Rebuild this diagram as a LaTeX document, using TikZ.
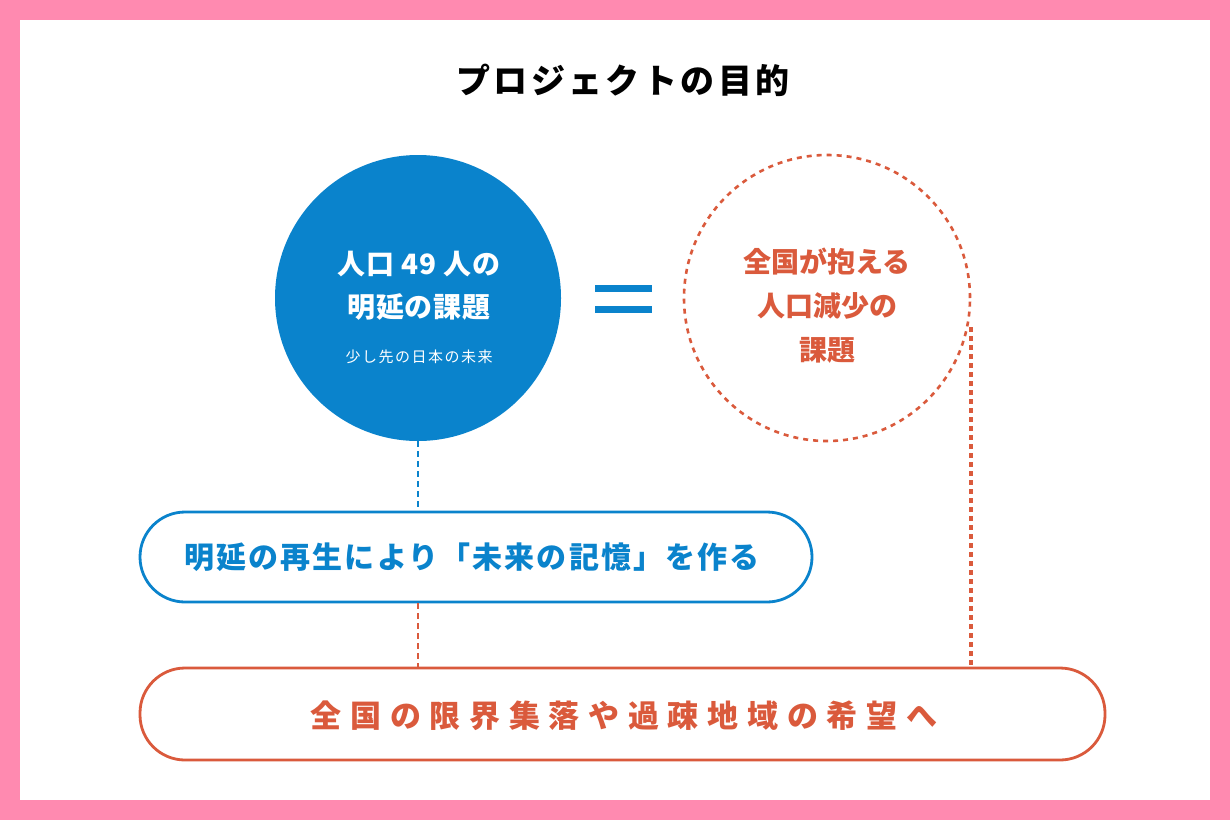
\documentclass[tikz,border=0pt]{standalone}
\usepackage{fontspec}
\setmainfont{Noto Sans CJK JP}
\usetikzlibrary{calc}
\definecolor{pinkb}{HTML}{FF8AB0}
\definecolor{blueM}{HTML}{0A83CC}
\definecolor{orangeM}{HTML}{DA5A3C}
\tikzset{
  solidcirc/.style={circle, fill=blueM, minimum size=286pt, inner sep=0pt, text=white, align=center},
  dashcirc/.style={circle, draw=orangeM, line width=2.6pt, dash pattern=on 5pt off 5pt, minimum size=286pt, inner sep=0pt, text=orangeM, align=center},
  pill/.style={draw, rounded corners=45pt, line width=2.8pt, inner sep=0pt},
  bluedash/.style={draw=blueM, line width=2.6pt, dash pattern=on 6pt off 4pt},
  oradash/.style={draw=orangeM, line width=2.6pt, dash pattern=on 6pt off 4pt},
  oradot/.style={draw=orangeM, line width=3.2pt, dash pattern=on 4.5pt off 4.5pt},
}
\begin{document}
\begin{tikzpicture}[x=1pt,y=-1pt]
\fill[pinkb] (0,0) rectangle (1230,820);
\fill[white] (20,20) rectangle (1210,800);
\useasboundingbox (0,0) rectangle (1230,820);
% title
\node (title) at (623,80) {\fontsize{34}{38}\selectfont\bfseries\addfontfeatures{LetterSpace=10}プロジェクトの目的};
% blue circle
\node[solidcirc] (bc) at (418,298) {};
\node[text=white] (bc1) at (419,264) {\fontsize{28}{32}\selectfont\bfseries\addfontfeatures{LetterSpace=3}人口 49 人の};
\node[text=white] (bc2) at (419,307) {\fontsize{28}{32}\selectfont\bfseries\addfontfeatures{LetterSpace=3}明延の課題};
\node[text=white] (bc3) at (419,357) {\fontsize{15}{18}\selectfont\addfontfeatures{LetterSpace=10}少し先の日本の未来};
% equals
\fill[blueM] (595,285) rectangle (652,292);
\fill[blueM] (595,306) rectangle (652,313);
% orange dashed circle
\node[dashcirc] (oc) at (827,298) {};
\node[text=orangeM, align=center, font={\fontsize{28}{44}\selectfont\bfseries}] (oct) at (827,306) {全国が抱える\\人口減少の\\課題};
% pills
\node[pill, draw=blueM, minimum width=672pt, minimum height=90pt, text=blueM] (bp) at (476,557) {};
\node[text=blueM] (bpt) at (472,557) {\fontsize{30}{34}\selectfont\bfseries\addfontfeatures{LetterSpace=7}明延の再生により「未来の記憶」を作る};
\node[pill, draw=orangeM, minimum width=965pt, minimum height=92pt] (op) at (622.5,714) {};
\node[text=orangeM] (opt) at (624,716) {\fontsize{31}{36}\selectfont\bfseries\addfontfeatures{LetterSpace=28}全国の限界集落や過疎地域の希望へ};
% connectors
\draw[bluedash] (bc.south) -- (bc.south |- bp.north);
\draw[oradash] (bc.south |- bp.south) -- (bc.south |- op.north);
\coordinate (rtop) at (971,327);
\draw[oradot] (rtop) -- (rtop |- op.north);
\end{tikzpicture}
\end{document}
